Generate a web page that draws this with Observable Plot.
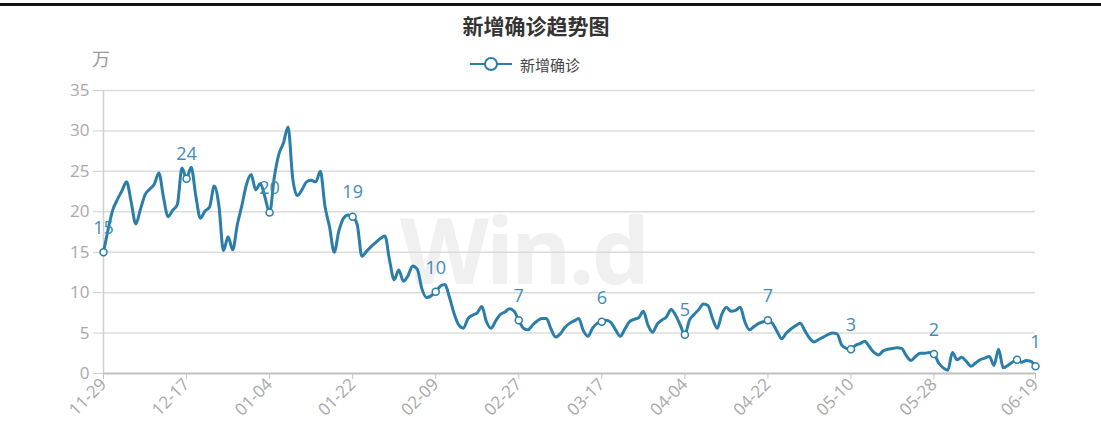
<!DOCTYPE html>
<html>
<head>
<meta charset="utf-8">
<script src="https://cdn.jsdelivr.net/npm/d3@7"></script>
<script src="https://cdn.jsdelivr.net/npm/@observablehq/plot@0.6"></script>
<style>
  html, body { margin: 0; padding: 0; background: #fff; }
  #wrap { position: relative; width: 1101px; height: 440px; overflow: hidden; font-family: "Noto Sans CJK SC", "Open Sans", sans-serif; }
  #topbar { position: absolute; left: 0; top: 3px; width: 1101px; height: 3px; background: #111; }
  #title { position: absolute; left: 436px; width: 200px; top: 10px; text-align: center; font-size: 21px; font-weight: bold; color: #333; }
  #legend { position: absolute; left: 468px; top: 52px; height: 24px; display: flex; align-items: center; font-size: 15px; color: #444; }
  #unit { position: absolute; left: 92px; top: 45px; font-size: 18px; color: #999; }
  #watermark { position: absolute; left: 400px; top: 213px; height: 72px; line-height: 72px; font-family: "Open Sans", sans-serif; font-weight: 700; font-size: 92px; color: #f0f0f0; letter-spacing: -3px; }
  #chart { position: absolute; left: 0; top: 75px; }
</style>
</head>
<body>
<div id="wrap">
  <div id="topbar"></div>
  <div id="watermark">Win.d</div>
  <div id="title">新增确诊趋势图</div>
  <div id="legend"></div>
  <div id="unit">万</div>
  <div id="chart"></div>
</div>
<script>
// ---- data (daily new confirmed cases, unit: 万) ----
const seriesName = "新增确诊";
const titleText = "新增确诊趋势图";
const unitText = "万";
const startDate = "2020-11-29";
const values = [
  15.0, 17.8, 20.2, 21.5, 22.6, 23.7, 21.2, 18.5, 20.3, 22.1,
  22.8, 23.4, 24.8, 21.8, 19.4, 20.2, 20.9, 25.4, 24.1, 25.5,
  22.0, 19.2, 20.1, 20.6, 23.2, 20.8, 15.2, 16.9, 15.3, 18.4,
  20.8, 23.4, 24.6, 22.7, 23.5, 21.8, 19.9, 24.2, 27.1, 28.5,
  30.5, 24.2, 22.0, 22.7, 23.7, 23.9, 23.7, 25.0, 20.7, 18.1,
  15.0, 17.6, 19.2, 19.6, 19.4, 18.4, 14.5, 15.1, 15.7, 16.2,
  16.7, 17.0, 14.0, 11.6, 12.8, 11.4, 12.1, 13.3, 12.9, 10.5,
  9.4, 9.6, 10.1, 10.8, 11.0, 9.4, 7.4, 6.0, 5.6, 6.8,
  7.2, 7.5, 8.3, 6.4, 5.6, 6.5, 7.3, 7.6, 8.0, 7.7,
  6.6, 5.6, 5.4, 6.0, 6.5, 6.8, 6.8, 5.5, 4.5, 4.9,
  5.7, 6.2, 6.5, 6.8, 5.3, 4.6, 5.6, 6.2, 6.4, 6.6,
  6.3, 5.4, 4.6, 5.5, 6.4, 6.7, 6.9, 7.7, 6.0, 5.1,
  6.1, 6.6, 7.0, 7.9, 7.2, 6.0, 4.8, 6.6, 7.3, 7.9,
  8.6, 8.4, 6.8, 5.6, 7.3, 8.2, 7.7, 7.8, 8.2, 6.4,
  5.4, 5.8, 6.2, 6.4, 6.6, 6.2, 5.2, 4.3, 5.0, 5.5,
  5.9, 6.2, 5.3, 4.4, 3.9, 4.2, 4.5, 4.8, 5.0, 4.9,
  3.5, 3.1, 3.0, 3.5, 3.7, 4.0, 3.3, 2.6, 2.3, 2.8,
  3.0, 3.1, 3.2, 3.1, 2.2, 1.6, 2.1, 2.5, 2.5, 2.6,
  2.4, 1.3, 0.7, 0.4, 2.6, 1.7, 2.0, 1.5, 0.9, 1.3,
  1.7, 1.9, 2.1, 1.0, 3.0, 0.7, 1.0, 1.4, 1.7, 1.4,
  1.6, 1.5, 0.9
];
const tickLabels = ["11-29","12-17","01-04","01-22","02-09","02-27","03-17","04-04","04-22","05-10","05-28","06-19"];
const yTicks = [0, 5, 10, 15, 20, 25, 30, 35];
// points shown with a marker (every 18th day and the last), and which of them carry a value label
const markerEvery = 18;
const hiddenLabelDates = ["06-15"];

// ---- build table ----
const start = d3.utcParse("%Y-%m-%d")(startDate);
const fmt = d3.utcFormat("%m-%d");
const data = values.map((v, i) => ({ date: d3.utcDay.offset(start, i), value: v, i }));
const last = data.length - 1;
const markers = data.filter(d => d.i % markerEvery === 0 || d.i === last);
const labelled = markers.filter(d => !hiddenLabelDates.includes(fmt(d.date)));
const tickDates = data.filter(d => tickLabels.includes(fmt(d.date))).map(d => d.date);

const C = "#2b7ea8";
const LC = "#3f8db6";

document.getElementById("title").textContent = titleText;
document.getElementById("unit").textContent = unitText;
document.getElementById("legend").innerHTML =
  `<svg width="46" height="16" style="margin-right:6px"><line x1="2" x2="44" y1="8" y2="8" stroke="${C}" stroke-width="2"/><circle cx="23" cy="8" r="6" fill="#fff" stroke="${C}" stroke-width="2"/></svg><span>${seriesName}</span>`;

const chart = Plot.plot({
  width: 1101,
  height: 365,
  marginLeft: 103,
  marginRight: 66,
  marginTop: 15,
  marginBottom: 67,
  style: { background: "transparent", fontFamily: "'Open Sans', 'Noto Sans', sans-serif", overflow: "visible" },
  x: { type: "utc", domain: [data[0].date, data[last].date] },
  y: { domain: [0, 35] },
  marks: [
    Plot.gridY(yTicks, { stroke: "#dcdcdc", strokeOpacity: 1, strokeWidth: 1.5 }),
    Plot.ruleX([data[0].date], { stroke: "#cfcfcf", strokeWidth: 1.5 }),
    Plot.ruleY([0], { stroke: "#c4c4c4", strokeWidth: 2 }),
    Plot.axisY(yTicks, { tickSize: 10, tickPadding: 4, fontSize: 17, fill: "#a8a8a8", stroke: "#cfcfcf", label: null }),
    Plot.axisX(tickDates, { tickFormat: fmt, tickRotate: -45, tickSize: 6, tickPadding: 2, fontSize: 17, fill: "#a8a8a8", stroke: "#c4c4c4", label: null }),
    Plot.line(data, { x: "date", y: "value", stroke: C, strokeWidth: 3, curve: "monotone-x" }),
    Plot.dot(markers, { x: "date", y: "value", r: 3.5, fill: "#fff", stroke: C, strokeWidth: 1.5 }),
    Plot.text(labelled, { x: "date", y: "value", text: d => String(Math.round(d.value)), dy: -24, fontSize: 18, fill: LC })
  ]
});
document.getElementById("chart").appendChild(chart);
</script>
</body>
</html>
